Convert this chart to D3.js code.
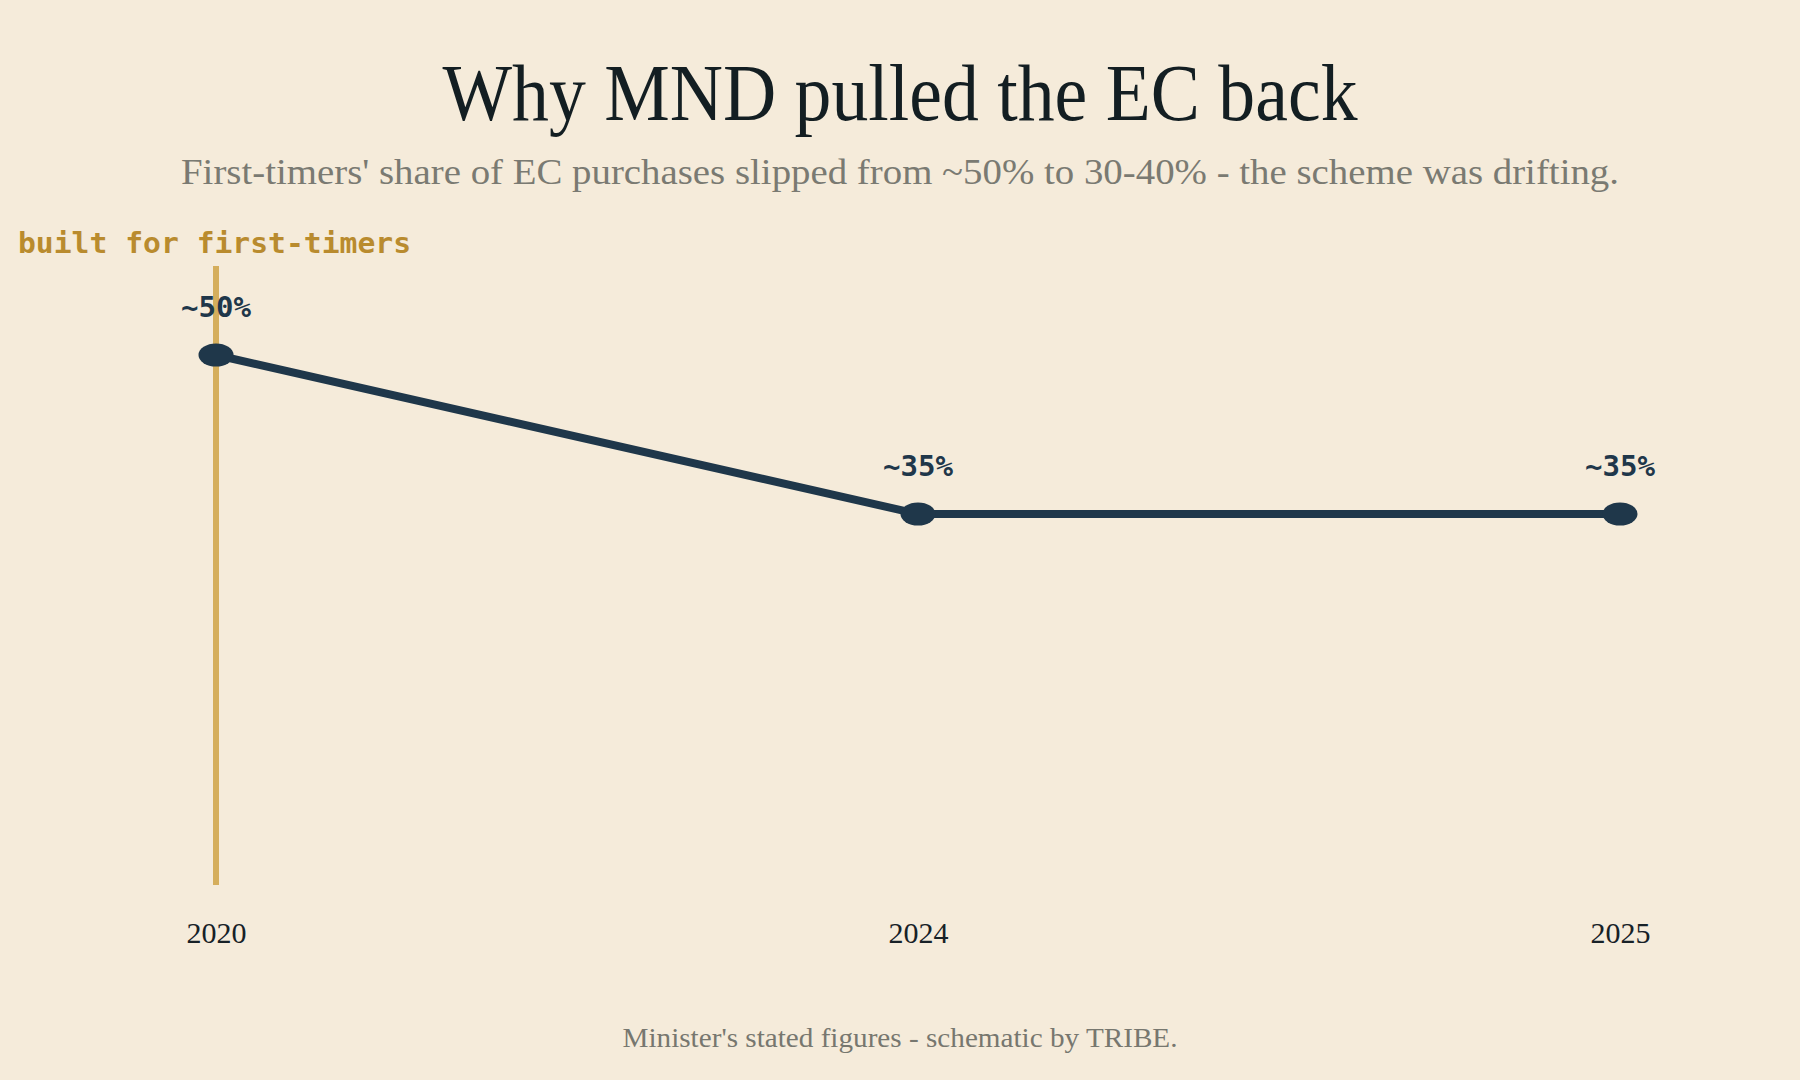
<!DOCTYPE html>
<html><head><meta charset="utf-8">
<script src="https://cdn.jsdelivr.net/npm/d3@7"></script>
<style>html,body{margin:0;padding:0;background:#f5ebda;}svg{display:block;}</style>
</head><body>
<script>
const years = ["2020", "2024", "2025"];
const shares = [50, 35, 35];
const pointLabels = ["~50%", "~35%", "~35%"];
const titleText = "Why MND pulled the EC back";
const subtitleText = "First-timers' share of EC purchases slipped from ~50% to 30-40% - the scheme was drifting.";
const footerText = "Minister's stated figures - schematic by TRIBE.";
const markerText = "built for first-timers";
const markerYear = "2020";

const W = 1800, H = 1080;
const svg = d3.select("body").append("svg").attr("width", W).attr("height", H);
svg.append("rect").attr("width", W).attr("height", H).attr("fill", "#f5ebda");

const x = d3.scalePoint().domain(years).range([216, 1620]);
const y = d3.scaleLinear().domain([0, 60]).range([885, 249]);

svg.append("text").attr("x", 900).attr("y", 120).attr("text-anchor", "middle")
  .attr("font-family", "'Liberation Serif', serif").attr("font-size", 80)
  .attr("fill", "#131e22").attr("textLength", 915).attr("lengthAdjust", "spacingAndGlyphs")
  .text(titleText);
svg.append("text").attr("x", 900).attr("y", 184).attr("text-anchor", "middle")
  .attr("font-family", "'Liberation Serif', serif").attr("font-size", 35)
  .attr("fill", "#7a7a72").attr("textLength", 1438).attr("lengthAdjust", "spacingAndGlyphs")
  .text(subtitleText);

// marker line
svg.append("line").attr("x1", x(markerYear)).attr("x2", x(markerYear))
  .attr("y1", y(58.4)).attr("y2", y(0)).attr("stroke", "#d5ae5c").attr("stroke-width", 6);
svg.append("text").attr("x", 18).attr("y", 253)
  .attr("font-family", "'DejaVu Sans Mono', monospace").attr("font-weight", "bold").attr("font-size", 29)
  .attr("fill", "#b98b2e").attr("textLength", 393).attr("lengthAdjust", "spacingAndGlyphs")
  .text(markerText);

const data = years.map((yr, i) => ({yr, v: shares[i], lab: pointLabels[i]}));
const line = d3.line().x(d => x(d.yr)).y(d => y(d.v));
svg.append("path").datum(data).attr("d", line).attr("fill", "none")
  .attr("stroke", "#1f374a").attr("stroke-width", 8);
svg.selectAll("ellipse.pt").data(data).join("ellipse").attr("class", "pt")
  .attr("cx", d => x(d.yr)).attr("cy", d => y(d.v)).attr("rx", 17.5).attr("ry", 11.5)
  .attr("fill", "#1f374a");
svg.selectAll("text.lab").data(data).join("text").attr("class", "lab")
  .attr("x", d => x(d.yr)).attr("y", d => y(d.v) - 38).attr("text-anchor", "middle")
  .attr("font-family", "'DejaVu Sans Mono', monospace").attr("font-weight", "bold").attr("font-size", 29)
  .attr("fill", "#1f374a").attr("textLength", 70).attr("lengthAdjust", "spacingAndGlyphs")
  .text(d => d.lab);

// x axis labels
const xAxis = d3.axisBottom(x).tickSize(0).tickPadding(0);
const gx = svg.append("g").attr("transform", "translate(0,919)").call(xAxis);
gx.select(".domain").remove();
gx.selectAll("text").attr("font-family", "'Liberation Serif', serif").attr("font-size", 30)
  .attr("fill", "#172127").attr("dy", "0.8em");

svg.append("text").attr("x", 900).attr("y", 1047).attr("text-anchor", "middle")
  .attr("font-family", "'Liberation Serif', serif").attr("font-size", 28)
  .attr("fill", "#77776f").attr("textLength", 555).attr("lengthAdjust", "spacingAndGlyphs")
  .text(footerText);
</script>
</body></html>
